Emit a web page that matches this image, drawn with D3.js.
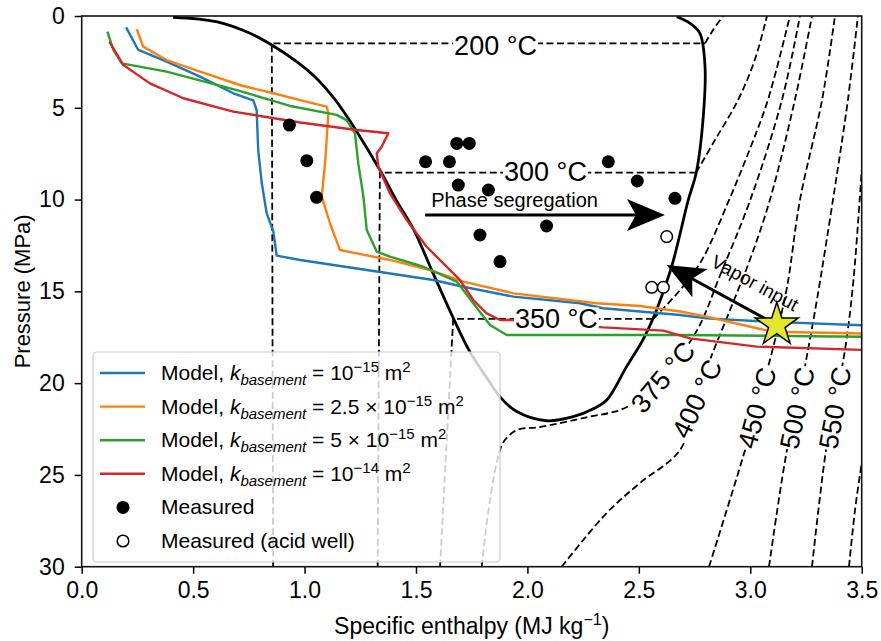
<!DOCTYPE html>
<html><head><meta charset="utf-8">
<script src="https://cdn.jsdelivr.net/npm/d3@7/dist/d3.min.js"></script>
<style>body{margin:0;background:#fff}svg{display:block;font-family:"Liberation Sans",Arial,Helvetica,sans-serif}</style>
</head><body><svg id="c" width="881" height="641"></svg>
<script>
// ---------- DATA ----------
const xTicks = [0, 0.5, 1, 1.5, 2, 2.5, 3, 3.5];
const yTicks = [0, 5, 10, 15, 20, 25, 30];
const xLabel = "Specific enthalpy (MJ kg";
const yLabel = "Pressure (MPa)";

// two-phase boundary (enthalpy MJ/kg, pressure MPa)
const saturation = [[0.41,0.07],[0.604,0.31],[0.755,0.94],[0.853,1.58],[0.96,2.45],[1.054,3.4],[1.13,4.45],[1.189,5.45],[1.25,6.6],[1.338,8.39],[1.41,10],[1.488,11.6],[1.578,14.05],[1.667,16.45],[1.742,18.3],[1.817,19.7],[1.877,20.75],[1.952,21.55],[2.086,22.05],[2.206,21.83],[2.296,21.4],[2.356,20.92],[2.445,19.1],[2.52,17.6],[2.58,16.0],[2.647,13.66],[2.722,10.02],[2.757,8.57],[2.789,5.49],[2.797,2.76],[2.774,0.94],[2.73,0.4],[2.67,0.04]];

// isotherms: straight (liquid) parts and curved (vapour) parts
const liquid200 = [[0.859,30],[0.853,1.49],[2.797,1.49]];
const liquid300 = [[1.328,30],[1.338,8.53],[2.757,8.53]];
const liquid350 = [[1.608,30],[1.667,16.5],[2.564,16.5]];
const vapor200 = [[2.797,1.49],[2.833,0.76],[2.878,0]];
const vapor300 = [[2.757,8.53],[2.842,6.75],[2.945,4.58],[3.02,2.4],[3.075,0]];
const vapor350 = [[2.564,16.5],[2.685,14.93],[2.783,13.29],[2.905,10.02],[3.0,7.19],[3.079,4.58],[3.178,0]];
const iso375 = [[1.795,30],[1.832,26.37],[1.877,23.64],[1.899,23.1],[1.953,22.55],[2.057,22.39],[2.25,21.9],[2.447,21.3],[2.608,19.67],[2.762,17.1],[2.865,14.11],[3.0,10.02],[3.142,4.58],[3.223,0]];
const iso400 = [[2.154,30],[2.356,27.07],[2.505,25.44],[2.685,23.64],[2.761,20.81],[2.819,18.74],[2.909,16.02],[2.998,13.29],[3.088,10.02],[3.2,4.58],[3.277,0]];
const iso450 = [[2.815,30],[2.977,23.64],[3.03,21.35],[3.111,17.65],[3.165,14.76],[3.223,10.02],[3.322,4.58],[3.38,0]];
const iso500 = [[3.084,30],[3.165,23.64],[3.21,21.35],[3.259,18.19],[3.299,15.47],[3.371,10.02],[3.438,4.58],[3.483,0]];
const iso550 = [[3.277,30],[3.34,23.64],[3.376,21.35],[3.425,18.19],[3.46,14.76],[3.491,10.02],[3.5,8.39]];
const iso600 = [[3.443,30],[3.47,26.91],[3.5,24.35]];

const isoLabels = ["200 °C","300 °C","350 °C","375 °C","400 °C","450 °C","500 °C","550 °C"];
const isoLabelPos = [[1.857,1.6],[2.081,8.5],[2.13,16.5],[2.608,19.67],[2.761,20.85],[3.03,21.35],[3.21,21.35],[3.38,21.35]];
const isoLabelAngle = [0,0,0,-50,-65,-75,-78,-80];

// model runs
const modelBlue = [[0.199,0.62],[0.254,1.85],[0.381,2.49],[0.531,3.3],[0.68,4.21],[0.77,4.6],[0.785,5.12],[0.792,7.3],[0.808,9.1],[0.83,10.75],[0.86,11.75],[0.875,13.05],[0.98,13.29],[1.578,14.38],[1.712,14.75],[1.937,15.29],[2.236,15.65],[2.34,15.92],[2.505,16.1],[2.685,16.29],[2.804,16.47],[3.074,16.65],[3.5,16.85]];
const modelOrange = [[0.247,0.72],[0.276,1.67],[0.381,2.4],[0.531,3.03],[0.72,3.8],[0.86,4.21],[0.98,4.58],[1.099,4.94],[1.107,5.3],[1.092,8.02],[1.077,9.84],[1.114,11.29],[1.159,12.75],[1.234,12.93],[1.383,13.29],[1.563,13.84],[1.712,14.47],[1.937,15.11],[2.311,15.65],[2.505,15.8],[2.685,16.1],[2.804,16.38],[3.029,17.01],[3.103,17.2],[3.5,17.3]];
const modelGreen = [[0.115,0.85],[0.142,1.85],[0.18,2.58],[0.381,3.03],[0.7,4.05],[0.935,4.9],[1.144,5.39],[1.189,5.67],[1.226,6.39],[1.241,8.02],[1.264,9.84],[1.279,11.66],[1.324,12.84],[1.383,13.11],[1.533,13.66],[1.683,14.47],[1.757,15.65],[1.832,16.83],[1.907,17.38],[2.685,17.38],[3.5,17.47]];
const modelRed = [[0.124,1.4],[0.187,2.67],[0.306,3.67],[0.456,4.48],[0.68,5.21],[0.98,5.8],[1.234,6.21],[1.376,6.39],[1.346,7.12],[1.324,7.48],[1.331,8.21],[1.383,9.66],[1.458,11.11],[1.548,12.57],[1.697,14.38],[1.757,15.47],[1.817,16.2],[1.877,16.56],[1.929,16.56],[2.34,16.96],[2.61,17.14],[2.73,17.56],[3.029,18.01],[3.5,18.19]];
const modelSeries = [modelBlue, modelOrange, modelGreen, modelRed];
const modelColors = ["#1f77b4","#ff7f0e","#2ca02c","#d62728"];

const measured = [[0.932,5.94],[1.01,7.88],[1.054,9.88],[1.543,7.94],[1.65,7.94],[1.683,6.94],[1.739,6.94],[1.69,9.21],[1.825,9.48],[1.787,11.93],[2.086,11.44],[1.877,13.38],[2.363,7.94],[2.493,8.99],[2.662,9.93]];
const measuredAcid = [[2.625,12.02],[2.558,14.78],[2.61,14.78]];
const vaporSource = [3.119,16.83];

const phaseArrow = [[1.541,10.84],[2.617,10.84]];
const vaporArrow = [[3.119,16.83],[2.625,13.56]];
const phaseText = "Phase segregation";
const phaseTextPos = [1.568,10.4];
const vaporText = "Vapor input";
const vaporTextPos = [3.021,14.54];

const legendLabels = [
  [["Model, "],["k","i"],["basement","sub"],[" = 10"],["−15","sup"],[" m"],["2","sup"]],
  [["Model, "],["k","i"],["basement","sub"],[" = 2.5 × 10"],["−15","sup"],[" m"],["2","sup"]],
  [["Model, "],["k","i"],["basement","sub"],[" = 5 × 10"],["−15","sup"],[" m"],["2","sup"]],
  [["Model, "],["k","i"],["basement","sub"],[" = 10"],["−14","sup"],[" m"],["2","sup"]],
  [["Measured"]],
  [["Measured (acid well)"]]
];

// ---------- CHART ----------
const svg = d3.select("#c");
const L = 81.7, R = 861.7, T = 16, B = 566.7;
const x = d3.scaleLinear().domain([0,3.5]).range([L,R]);
const y = d3.scaleLinear().domain([0,30]).range([T,B]);

svg.append("defs").append("clipPath").attr("id","clip")
  .append("rect").attr("x",L).attr("y",T).attr("width",R-L).attr("height",B-T);
const plot = svg.append("g").attr("clip-path","url(#clip)");

const lin = d3.line().x(d=>x(d[0])).y(d=>y(d[1]));
const smooth = d3.line().x(d=>x(d[0])).y(d=>y(d[1])).curve(d3.curveCatmullRom.alpha(0.5));

const dash = "7,3.5";
[liquid200, liquid300, liquid350].forEach(s =>
  plot.append("path").attr("d", lin(s)).attr("fill","none").attr("stroke","#000").attr("stroke-width",1.8).attr("stroke-dasharray",dash));
[vapor200, vapor300, vapor350, iso375, iso400, iso450, iso500, iso550, iso600].forEach(s =>
  plot.append("path").attr("d", smooth(s)).attr("fill","none").attr("stroke","#000").attr("stroke-width",1.8).attr("stroke-dasharray",dash));

plot.append("path").attr("d", smooth(saturation)).attr("fill","none").attr("stroke","#000").attr("stroke-width",2.8);

modelSeries.forEach((s,i) =>
  plot.append("path").attr("d", lin(s)).attr("fill","none").attr("stroke",modelColors[i]).attr("stroke-width",2.4).attr("stroke-linejoin","round"));

// isotherm labels with white background
isoLabels.forEach((t,i) => {
  const g = plot.append("g").attr("transform",`translate(${x(isoLabelPos[i][0])},${y(isoLabelPos[i][1])}) rotate(${isoLabelAngle[i]})`);
  const rect = g.append("rect").attr("fill","#fff");
  const tx = g.append("text").attr("text-anchor","middle").attr("dy","0.35em").attr("font-size",27).attr("fill","#000").text(t);
  const bb = tx.node().getBBox();
  rect.attr("x",bb.x-1).attr("y",bb.y+3).attr("width",bb.width+2).attr("height",bb.height-6);
});

// points
plot.selectAll("circle.m").data(measured).enter().append("circle")
  .attr("cx",d=>x(d[0])).attr("cy",d=>y(d[1])).attr("r",6.5).attr("fill","#000");
plot.selectAll("circle.a").data(measuredAcid).enter().append("circle")
  .attr("cx",d=>x(d[0])).attr("cy",d=>y(d[1])).attr("r",5.8).attr("fill","#fff").attr("stroke","#000").attr("stroke-width",1.5);

// arrows
function arrow(a, b) {
  const x1=x(a[0]), y1=y(a[1]), x2=x(b[0]), y2=y(b[1]);
  const dx=x2-x1, dy=y2-y1, len=Math.hypot(dx,dy), ux=dx/len, uy=dy/len, nx=-uy, ny=ux;
  const HL=38, HW=16, N=9;
  const bx=x2-HL*ux, by=y2-HL*uy, nxp=x2-(HL-N)*ux, nyp=y2-(HL-N)*uy;
  plot.append("line").attr("x1",x1).attr("y1",y1).attr("x2",nxp).attr("y2",nyp).attr("stroke","#000").attr("stroke-width",3);
  plot.append("path").attr("d",`M${x2},${y2}L${bx+HW*nx},${by+HW*ny}L${nxp},${nyp}L${bx-HW*nx},${by-HW*ny}Z`).attr("fill","#000");
}
arrow(phaseArrow[0], phaseArrow[1]);
arrow(vaporArrow[0], vaporArrow[1]);

plot.append("text").attr("x",x(phaseTextPos[0])).attr("y",y(phaseTextPos[1])).attr("font-size",20).text(phaseText);
{
  const a=vaporArrow[0], b=vaporArrow[1];
  const ang = Math.atan2(y(a[1])-y(b[1]), x(a[0])-x(b[0]))*180/Math.PI;
  plot.append("text").attr("transform",`translate(${x(vaporTextPos[0])},${y(vaporTextPos[1])}) rotate(${ang})`)
    .attr("text-anchor","middle").attr("dy","0.35em").attr("font-size",19).text(vaporText);
}

// star
const star = d3.symbol().type(d3.symbolStar).size(580);
plot.append("path").attr("d",star()).attr("transform",`translate(${x(vaporSource[0])},${y(vaporSource[1])})`)
  .attr("fill","#e2e62c").attr("stroke","#000").attr("stroke-width",1.5);

// legend
const lg = svg.append("g");
lg.append("rect").attr("x",93).attr("y",352).attr("width",407).attr("height",210).attr("rx",4)
  .attr("fill","#fff").attr("fill-opacity",0.8).attr("stroke","#ccc").attr("stroke-width",1.2);
legendLabels.forEach((segs,i) => {
  const cy = 373 + i*33.6;
  if (i < 4) {
    lg.append("line").attr("x1",100).attr("x2",145).attr("y1",cy).attr("y2",cy).attr("stroke",modelColors[i]).attr("stroke-width",2.4);
  } else if (i === 4) {
    lg.append("circle").attr("cx",123).attr("cy",cy).attr("r",6.5).attr("fill","#000");
  } else {
    lg.append("circle").attr("cx",123).attr("cy",cy).attr("r",5.8).attr("fill","#fff").attr("stroke","#000").attr("stroke-width",1.5);
  }
  const t = lg.append("text").attr("x",161).attr("y",cy+7).attr("font-size",21);
  let shift = 0;
  segs.forEach(s => {
    const kind = s[1];
    let target = 0, size = 21, style = "normal";
    if (kind === "i") style = "italic";
    if (kind === "sub") { target = 5; size = 15; style = "italic"; }
    if (kind === "sup") { target = -8; size = 15; }
    t.append("tspan").attr("dy", target - shift).attr("font-size",size).attr("font-style",style).text(s[0]);
    shift = target;
  });
});

// axes
const xa = svg.append("g").attr("transform",`translate(0,${B})`)
  .call(d3.axisBottom(x).tickValues(xTicks).tickFormat(d3.format(".1f")).tickSize(7).tickPadding(8));
const ya = svg.append("g").attr("transform",`translate(${L},0)`)
  .call(d3.axisLeft(y).tickValues(yTicks).tickFormat(d3.format("d")).tickSize(7).tickPadding(10));
[xa, ya].forEach(a => {
  a.select(".domain").remove();
  a.selectAll("line").attr("stroke","#000").attr("stroke-width",1.5);
  a.selectAll("text").attr("font-size",23).attr("fill","#000").attr("font-family",'"Liberation Sans",Arial,sans-serif');
});
svg.append("rect").attr("x",L).attr("y",T).attr("width",R-L).attr("height",B-T)
  .attr("fill","none").attr("stroke","#111").attr("stroke-width",1.6);

const xl = svg.append("text").attr("x",(L+R)/2).attr("y",634).attr("text-anchor","middle").attr("font-size",23);
xl.append("tspan").text(xLabel);
xl.append("tspan").attr("dy",-9).attr("font-size",16).text("−1");
xl.append("tspan").attr("dy",9).text(")");
svg.append("text").attr("transform",`translate(30,${(T+B)/2}) rotate(-90)`).attr("text-anchor","middle").attr("font-size",22).text(yLabel);
</script></body></html>
